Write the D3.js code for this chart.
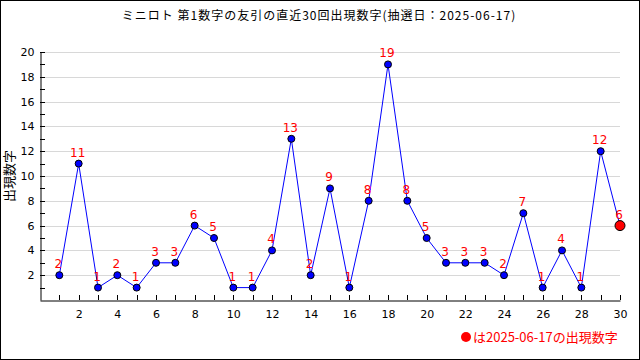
<!DOCTYPE html>
<html><head><meta charset="utf-8">
<script src="https://cdn.jsdelivr.net/npm/d3@7"></script>
<style>body{margin:0;background:#fff}svg{display:block}</style>
</head><body>
<svg id="c" width="640" height="360"></svg>
<script>
const title = "ミニロト 第1数字の友引の直近30回出現数字(抽選日：2025-06-17)";
const yLabel = "出現数字";
const legendText = "は2025-06-17の出現数字";
const draws = d3.range(1, 31);
const values = [2, 11, 1, 2, 1, 3, 3, 6, 5, 1, 1, 4, 13, 2, 9, 1, 8, 19, 8, 5, 3, 3, 3, 2, 7, 1, 4, 1, 12, 6];
const yTicks = [2, 4, 6, 8, 10, 12, 14, 16, 18, 20];
const xTicks = [2, 4, 6, 8, 10, 12, 14, 16, 18, 20, 22, 24, 26, 28, 30];

const svg = d3.select("#c");
const font = "'Noto Sans CJK JP', 'DejaVu Sans', sans-serif";
svg.append("rect").attr("x", 0.5).attr("y", 0.5).attr("width", 639).attr("height", 359)
  .attr("fill", "#fff").attr("stroke", "#000");

const x = d3.scaleLinear().domain([0, 30]).range([40, 620]);
const y = d3.scaleLinear().domain([0, 20]).range([300, 52]);

// grid
svg.append("g").selectAll("line").data(yTicks).join("line")
  .attr("x1", 40).attr("x2", 620)
  .attr("y1", d => Math.round(y(d)) + 0.5).attr("y2", d => Math.round(y(d)) + 0.5)
  .attr("stroke", "#d8d8d8").attr("stroke-width", 1);

// y axis
const ya = svg.append("g").attr("transform", "translate(40.5,0)")
  .call(d3.axisLeft(y).tickValues(yTicks).tickSize(0).tickPadding(6));
ya.select(".domain").attr("stroke", "#000");
ya.selectAll("text").attr("font-family", "'DejaVu Sans', sans-serif").attr("font-size", 11).attr("fill", "#000");
svg.append("g").selectAll("line").data(d3.range(1, 21)).join("line")
  .attr("x1", 40).attr("x2", 45)
  .attr("y1", d => Math.round(y(d)) + 0.5).attr("y2", d => Math.round(y(d)) + 0.5)
  .attr("stroke", "#000");

// x axis
const xa = svg.append("g").attr("transform", "translate(0,300.5)")
  .call(d3.axisBottom(x).tickValues(xTicks).tickSize(0).tickPadding(10));
xa.select(".domain").attr("stroke", "#000");
xa.selectAll("text").attr("font-family", "'DejaVu Sans', sans-serif").attr("font-size", 11).attr("fill", "#000");
svg.append("g").selectAll("line").data(d3.range(1, 31)).join("line")
  .attr("x1", d => Math.round(x(d)) + 0.5).attr("x2", d => Math.round(x(d)) + 0.5)
  .attr("y1", 300).attr("y2", 295)
  .attr("stroke", "#000");

// line
svg.append("path").datum(values)
  .attr("d", d3.line().x((d, i) => x(draws[i])).y(d => y(d)))
  .attr("fill", "none").attr("stroke", "#0000ff").attr("stroke-width", 1);

// points
svg.append("g").selectAll("circle").data(values).join("circle")
  .attr("cx", (d, i) => x(draws[i])).attr("cy", d => y(d))
  .attr("r", (d, i) => i === values.length - 1 ? 5 : 3.5)
  .attr("fill", (d, i) => i === values.length - 1 ? "#ff0000" : "#0000ff")
  .attr("stroke", "#000").attr("stroke-width", 1);

// value labels
svg.append("g").selectAll("text").data(values).join("text")
  .attr("x", (d, i) => x(draws[i]) - 1).attr("y", d => y(d) - 7)
  .attr("text-anchor", "middle").attr("font-family", "'DejaVu Sans', sans-serif")
  .attr("font-size", 12).attr("fill", "#ff0000").text(d => d);

// title
svg.append("text").attr("x", 319).attr("y", 20).attr("text-anchor", "middle")
  .attr("font-family", font).attr("font-size", 12).attr("letter-spacing", 1)
  .attr("fill", "#000").text(title);

// y label
svg.append("text").attr("transform", "translate(14,176) rotate(-90)")
  .attr("text-anchor", "middle").attr("font-family", font).attr("font-size", 13)
  .attr("fill", "#000").text(yLabel);

// legend
svg.append("circle").attr("cx", 466).attr("cy", 337).attr("r", 5).attr("fill", "#ff0000");
svg.append("text").attr("x", 473).attr("y", 342).attr("font-family", font).attr("font-size", 13)
  .attr("fill", "#ff0000").text(legendText);
</script>
</body></html>
